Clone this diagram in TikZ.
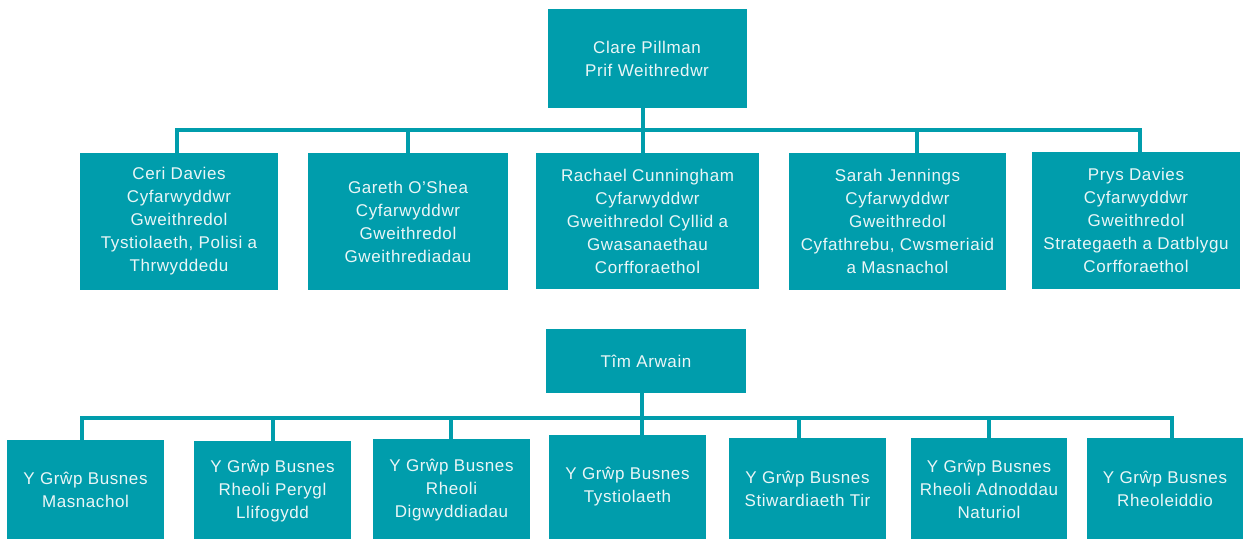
\documentclass[tikz,border=0pt]{standalone}
\usepackage{fontspec}
\setmainfont{Liberation Sans}[LetterSpace=3.5]
\definecolor{teal1}{HTML}{009DAC}
\definecolor{txt}{HTML}{EAF6F7}
\begin{document}
\begin{tikzpicture}[x=1pt,y=-1pt,
  box/.style={fill=teal1, draw=none, inner sep=0pt, text=txt, align=center,
    font=\fontsize{17}{23}\selectfont},
  conn/.style={draw=teal1, line width=4.5pt}]
\useasboundingbox (0,0) rectangle (1244,538);
\clip (0,0) rectangle (1244,538);
% top
\node[box, minimum width=199, minimum height=99] (ceo) at (647,58.5) {Clare Pillman\\Prif Weithredwr};
% row 1
\node[box, minimum width=198, minimum height=137] (ceri) at (179,221.5) {Ceri Davies\\Cyfarwyddwr\\Gweithredol\\Tystiolaeth, Polisi a\\Thrwyddedu};
\node[box, minimum width=200, minimum height=137] (gareth) at (408,221.5) {Gareth O'Shea\\Cyfarwyddwr\\Gweithredol\\Gweithrediadau};
\node[box, minimum width=223, minimum height=136] (rachael) at (647.5,221) {Rachael Cunningham\\Cyfarwyddwr\\Gweithredol Cyllid a\\Gwasanaethau\\Corfforaethol};
\node[box, minimum width=217, minimum height=137] (sarah) at (897.5,221.5) {Sarah Jennings\\Cyfarwyddwr\\Gweithredol\\Cyfathrebu, Cwsmeriaid\\a Masnachol};
\node[box, minimum width=208, minimum height=137] (prys) at (1136,220.5) {Prys Davies\\Cyfarwyddwr\\Gweithredol\\Strategaeth a Datblygu\\Corfforaethol};
% bus 1
\coordinate (bus1) at (643,130);
\coordinate (c1) at (177,153);
\coordinate (c2) at (408,153);
\coordinate (c4) at (917,153);
\coordinate (c5) at (1140,152);
\draw[conn] (ceo.south -| bus1) -- (rachael.north -| bus1);
\draw[conn] (bus1) -| (c1);
\draw[conn] (bus1) -| (c2);
\draw[conn] (bus1) -| (c4);
\draw[conn] (bus1) -| (c5);
% team
\node[box, minimum width=200, minimum height=64] (tim) at (646,361) {T\^{\i}m Arwain};
\node[box, minimum width=157, minimum height=100] (g1) at (85.5,490) {Y Grŵp Busnes\\Masnachol};
\node[box, minimum width=157, minimum height=100] (g2) at (272.5,491) {Y Grŵp Busnes\\Rheoli Perygl\\Llifogydd};
\node[box, minimum width=157, minimum height=102] (g3) at (451.5,490) {Y Grŵp Busnes\\Rheoli\\Digwyddiadau};
\node[box, minimum width=157, minimum height=104] (g4) at (627.5,487) {Y Grŵp Busnes\\Tystiolaeth};
\node[box, minimum width=157, minimum height=102] (g5) at (807.5,489) {Y Grŵp Busnes\\Stiwardiaeth Tir};
\node[box, minimum width=156, minimum height=102] (g6) at (989,489) {Y Grŵp Busnes\\Rheoli Adnoddau\\Naturiol};
\node[box, minimum width=156, minimum height=102] (g7) at (1165,489) {Y Grŵp Busnes\\Rheoleiddio};
\coordinate (bus2) at (642,418);
\coordinate (d1) at (82,441);
\coordinate (d2) at (273,442);
\coordinate (d3) at (451,439);
\coordinate (d5) at (799,438);
\coordinate (d6) at (989,438);
\coordinate (d7) at (1172,438);
\draw[conn] (tim.south -| bus2) -- (g4.north -| bus2);
\draw[conn] (bus2) -| (d1);
\draw[conn] (bus2) -| (d2);
\draw[conn] (bus2) -| (d3);
\draw[conn] (bus2) -| (d5);
\draw[conn] (bus2) -| (d6);
\draw[conn] (bus2) -| (d7);
\end{tikzpicture}
\end{document}
